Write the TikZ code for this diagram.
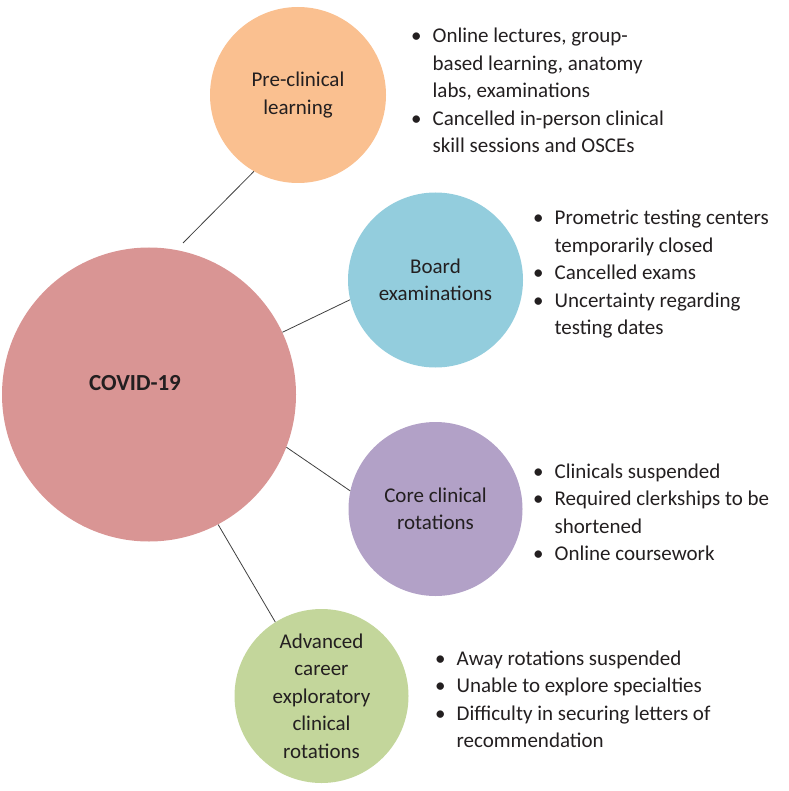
\documentclass[tikz,border=0pt]{standalone}
\usepackage{fontspec}
\setmainfont{Carlito}
\definecolor{txt}{HTML}{231F20}
\definecolor{corange}{HTML}{FAC090}
\definecolor{cblue}{HTML}{93CDDD}
\definecolor{cpurple}{HTML}{B2A1C7}
\definecolor{cgreen}{HTML}{C3D69B}
\definecolor{cred}{HTML}{D99594}
\definecolor{lineg}{HTML}{404040}
\newcommand{\bl}{\textbullet}
\tikzset{
  bubble/.style={circle, inner sep=0pt, draw=none, text=txt, align=center,
     font=\fontsize{21}{27.5}\selectfont},
  blist/.style={anchor=base west, inner sep=0pt, text=txt,
     font=\fontsize{21}{27.5}\selectfont},
  link/.style={draw=lineg, line width=0.8pt}
}
\begin{document}
\begin{tikzpicture}[x=1pt,y=-1pt]
\useasboundingbox (0,0) rectangle (788,791);
\node[bubble, fill=cred, minimum size=294pt] (covid) at (149,394.5) {};
\node[text=txt, font=\fontsize{23}{27.5}\selectfont\bfseries] (covidt) at (135,383) {COVID-19};
\node[bubble, fill=corange, minimum size=176pt] (pre) at (298,95) {Pre-clinical\\learning};
\node[bubble, fill=cblue, minimum size=175pt] (board) at (435.5,280) {Board\\examinations};
\node[bubble, fill=cpurple, minimum size=174pt] (core) at (435.5,509) {Core clinical\\rotations};
\node[bubble, fill=cgreen, minimum size=174pt] (adv) at (321.5,696) {Advanced\\career\\exploratory\\clinical\\rotations};

\coordinate (preend) at (183,243);
\draw[link] (pre.240) -- (preend);
\draw[link] (board.193) -- (covid.25);
\draw[link] (core.168) -- (covid.339);
\draw[link] (adv.122) -- (covid.298);

\node[blist] (l1) at (411,43) {\begin{tabular}[t]{@{}l@{\hspace{11pt}}l@{}}
\bl & Online lectures, group-\\
 & based learning, anatomy\\
 & labs, examinations\\
\bl & Cancelled in-person clinical\\
 & skill sessions and OSCEs
\end{tabular}};
\node[blist] (l2) at (533,225) {\begin{tabular}[t]{@{}l@{\hspace{11pt}}l@{}}
\bl & Prometric testing centers\\
 & temporarily closed\\
\bl & Cancelled exams\\
\bl & Uncertainty regarding\\
 & testing dates
\end{tabular}};
\node[blist] (l3) at (533,478) {\begin{tabular}[t]{@{}l@{\hspace{11pt}}l@{}}
\bl & Clinicals suspended\\
\bl & Required clerkships to be\\
 & shortened\\
\bl & Online coursework
\end{tabular}};
\node[blist] (l4) at (435,665) {\begin{tabular}[t]{@{}l@{\hspace{11pt}}l@{}}
\bl & Away rotations suspended\\
\bl & Unable to explore specialties\\
\bl & Difficulty in securing letters of\\
 & recommendation
\end{tabular}};
\end{tikzpicture}
\end{document}
